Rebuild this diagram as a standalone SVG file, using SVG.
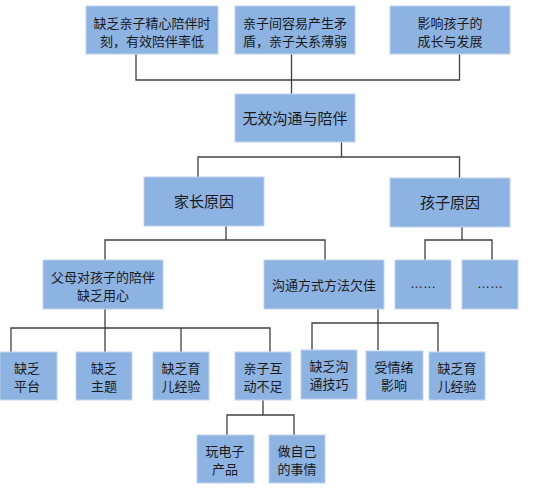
<svg xmlns="http://www.w3.org/2000/svg" width="553" height="489" viewBox="0 0 553 489">
<style>
.n rect{fill:#8db3e2;stroke:#c0d4ec;stroke-width:1}
.n text{font-family:"Liberation Sans","Noto Sans CJK SC",sans-serif;font-size:13px;fill:#1a1a1a;text-anchor:middle}
.n text.b{font-size:15px}
.c path{fill:none;stroke:#404040;stroke-width:1.3}
</style>
<rect width="553" height="489" fill="#ffffff"/>
<g class="c">
<path d="M136 54V80H459.5V54M291.5 54V94"/>
<path d="M341.5 142V157M198 177V157H459.5V178"/>
<path d="M226 226V240M105 260V240H325V260"/>
<path d="M462 227V240M425 260V240H492V260"/>
<path d="M105 309V352M11 352V328H270V352M181 328V352"/>
<path d="M378 309V350M312 350V323H438V352"/>
<path d="M263 400V415M227 435V415H294V435"/>
</g>
<g id="n1" class="n"><rect x="86" y="6" width="132" height="48"/><text x="152" y="28">缺乏亲子精心陪伴时</text><text x="152" y="46">刻，有效陪伴率低</text></g>
<g id="n2" class="n"><rect x="235" y="6" width="120" height="48"/><text x="295" y="28">亲子间容易产生矛</text><text x="295" y="46">盾，亲子关系薄弱</text></g>
<g id="n3" class="n"><rect x="390" y="6" width="120" height="48"/><text x="450" y="28">影响孩子的</text><text x="450" y="46">成长与发展</text></g>
<g id="n4" class="n"><rect x="235" y="94" width="120" height="48"/><text class="b" x="295" y="124">无效沟通与陪伴</text></g>
<g id="n5" class="n"><rect x="144" y="177" width="120" height="49"/><text class="b" x="204" y="207">家长原因</text></g>
<g id="n6" class="n"><rect x="390" y="178" width="120" height="49"/><text class="b" x="450" y="208">孩子原因</text></g>
<g id="n7" class="n"><rect x="43" y="260" width="120" height="49"/><text x="103" y="282">父母对孩子的陪伴</text><text x="103" y="300">缺乏用心</text></g>
<g id="n8" class="n"><rect x="264" y="260" width="120" height="49"/><text x="324" y="290">沟通方式方法欠佳</text></g>
<g id="n9" class="n"><rect x="395" y="260" width="56" height="49"/><text x="423" y="288">……</text></g>
<g id="n10" class="n"><rect x="462" y="260" width="56" height="49"/><text x="490" y="288">……</text></g>
<g id="n11" class="n"><rect x="0" y="352" width="57" height="48"/><text x="27" y="373">缺乏</text><text x="27" y="391">平台</text></g>
<g id="n12" class="n"><rect x="76" y="352" width="56" height="48"/><text x="104" y="373">缺乏</text><text x="104" y="391">主题</text></g>
<g id="n13" class="n"><rect x="153" y="352" width="56" height="48"/><text x="181" y="373">缺乏育</text><text x="181" y="391">儿经验</text></g>
<g id="n14" class="n"><rect x="235" y="352" width="56" height="48"/><text x="263" y="373">亲子互</text><text x="263" y="391">动不足</text></g>
<g id="n15" class="n"><rect x="301" y="350" width="56" height="49"/><text x="329" y="371">缺乏沟</text><text x="329" y="389">通技巧</text></g>
<g id="n16" class="n"><rect x="366" y="351" width="57" height="49"/><text x="394" y="372">受情绪</text><text x="394" y="390">影响</text></g>
<g id="n17" class="n"><rect x="429" y="352" width="56" height="48"/><text x="457" y="373">缺乏育</text><text x="457" y="391">儿经验</text></g>
<g id="n18" class="n"><rect x="197" y="435" width="57" height="48"/><text x="225" y="456">玩电子</text><text x="225" y="474">产品</text></g>
<g id="n19" class="n"><rect x="269" y="435" width="56" height="48"/><text x="297" y="456">做自己</text><text x="297" y="474">的事情</text></g>
</svg>
